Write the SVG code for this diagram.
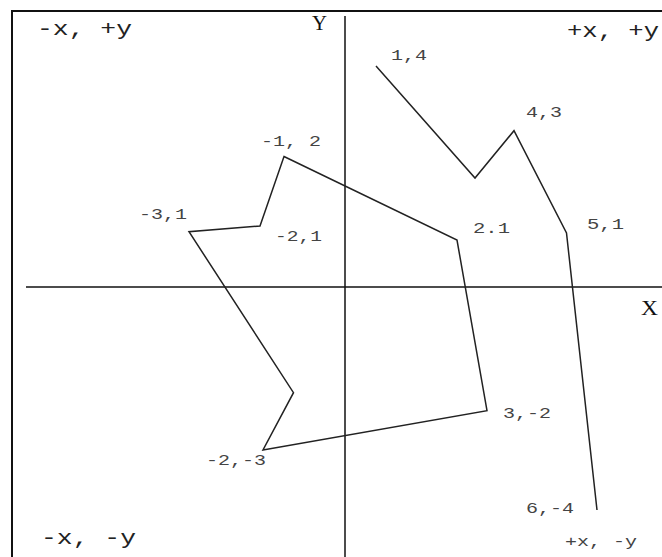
<svg xmlns="http://www.w3.org/2000/svg" width="662" height="557" viewBox="0 0 662 557">
<style>
.frame{fill:none;stroke:#111;stroke-width:2}
.axis{stroke:#111;stroke-width:1.5;fill:none}
.shape{fill:none;stroke:#222;stroke-width:1.5;stroke-linejoin:miter}
.big{font-family:"Liberation Mono","Courier New",monospace;font-size:21px;fill:#222}
.small{font-family:"Liberation Mono","Courier New",monospace;font-size:15px;fill:#444}
.axlab{font-family:"Liberation Serif","Times New Roman",serif;font-size:20px;fill:#111}
</style>
<rect width="662" height="557" fill="#fff"/>
<rect class="frame" x="12" y="11" width="660" height="560"/>
<g id="connectors">
<line class="axis" x1="345" y1="16" x2="345" y2="557"/>
<line class="axis" x1="26" y1="287" x2="662" y2="287"/>
<polygon class="shape" points="284,156.5 457,240 487,410.7 263,450 293.5,392.7 189,231.7 260,226"/>
<polyline class="shape" points="376,66 475,178 514,130.7 566.5,233 597,510"/>
</g>
<g id="axis-y"><text class="axlab" x="312" y="30" textLength="15" lengthAdjust="spacingAndGlyphs">Y</text></g>
<g id="axis-x"><text class="axlab" x="641" y="315" textLength="17" lengthAdjust="spacingAndGlyphs">X</text></g>
<g id="q-nw"><text class="big" x="37" y="35" textLength="95" lengthAdjust="spacingAndGlyphs">-x,  +y</text></g>
<g id="q-ne"><text class="big" x="567" y="37" textLength="92" lengthAdjust="spacingAndGlyphs">+x,  +y</text></g>
<g id="q-sw"><text class="big" x="41" y="544" textLength="95" lengthAdjust="spacingAndGlyphs">-x,  -y</text></g>
<g id="q-se"><text class="small" x="565" y="546" textLength="72" lengthAdjust="spacingAndGlyphs">+x,  -y</text></g>
<g id="p-1-4"><text class="small" x="391" y="60" textLength="36" lengthAdjust="spacingAndGlyphs">1,4</text></g>
<g id="p-4-3"><text class="small" x="526" y="117" textLength="36" lengthAdjust="spacingAndGlyphs">4,3</text></g>
<g id="p-m1-2"><text class="small" x="261" y="146" textLength="60" lengthAdjust="spacingAndGlyphs">-1, 2</text></g>
<g id="p-m3-1"><text class="small" x="139" y="219" textLength="48" lengthAdjust="spacingAndGlyphs">-3,1</text></g>
<g id="p-m2-1"><text class="small" x="275" y="241" textLength="47" lengthAdjust="spacingAndGlyphs">-2,1</text></g>
<g id="p-2-1"><text class="small" x="473" y="233" textLength="37" lengthAdjust="spacingAndGlyphs">2.1</text></g>
<g id="p-5-1"><text class="small" x="587" y="229" textLength="37" lengthAdjust="spacingAndGlyphs">5,1</text></g>
<g id="p-3-m2"><text class="small" x="503" y="418" textLength="48" lengthAdjust="spacingAndGlyphs">3,-2</text></g>
<g id="p-m2-m3"><text class="small" x="206" y="465" textLength="60" lengthAdjust="spacingAndGlyphs">-2,-3</text></g>
<g id="p-6-m4"><text class="small" x="526" y="513" textLength="48" lengthAdjust="spacingAndGlyphs">6,-4</text></g>
</svg>
